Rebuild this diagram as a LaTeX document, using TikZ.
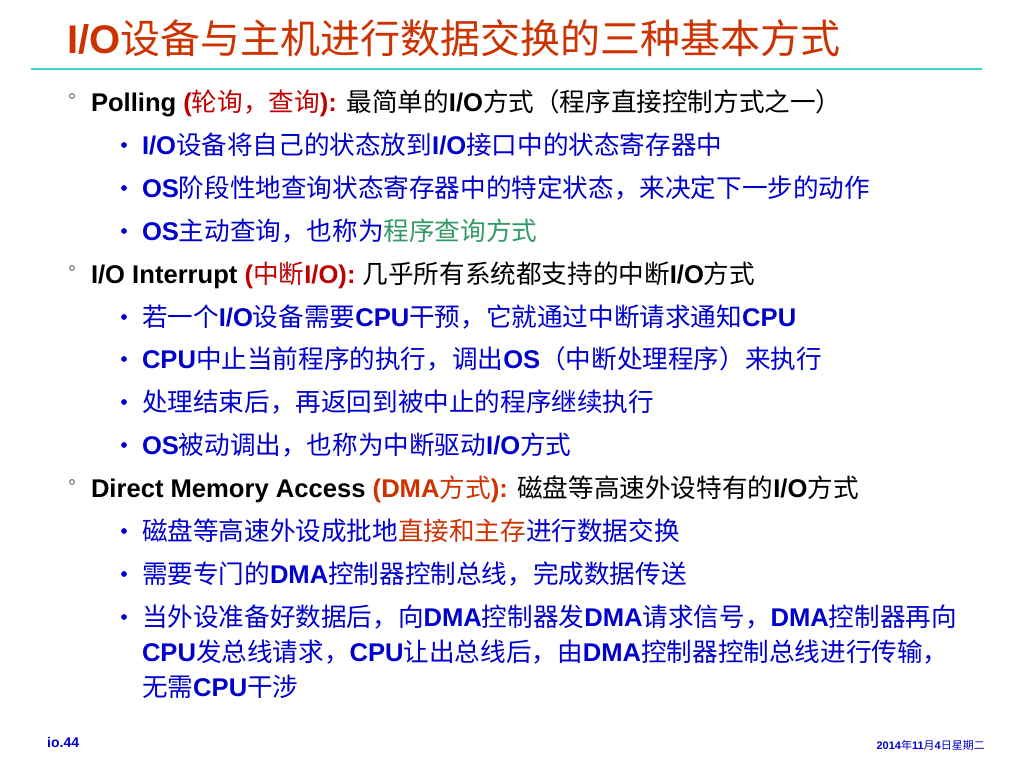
\documentclass[tikz,border=0pt]{standalone}
\usepackage{fontspec}
\setmainfont{Liberation Sans}
\newfontfamily\cjkfont{Noto Sans CJK SC}
\XeTeXinterchartokenstate=1
\newXeTeXintercharclass\cjkclass
\newcount\cjkc
\cjkc="4E00
\loop
\XeTeXcharclass\cjkc=\cjkclass
\advance\cjkc by 1
\ifnum\cjkc<"A000 \repeat
\XeTeXcharclass"FF08=\cjkclass
\XeTeXcharclass"FF09=\cjkclass
\XeTeXcharclass"FF0C=\cjkclass
\XeTeXcharclass"FF1A=\cjkclass
\XeTeXcharclass"3001=\cjkclass
\XeTeXcharclass"3002=\cjkclass
\XeTeXinterchartoks 0 \cjkclass={\begingroup\fontseries{m}\cjkfont}
\XeTeXinterchartoks 4095 \cjkclass={\begingroup\fontseries{m}\cjkfont}
\XeTeXinterchartoks \cjkclass 0={\endgroup}
\XeTeXinterchartoks \cjkclass 4095={\endgroup}
\definecolor{titlec}{HTML}{CC3300}
\definecolor{bluec}{HTML}{0000CC}
\definecolor{redc}{HTML}{C00000}
\definecolor{orangec}{HTML}{CC3300}
\definecolor{greenc}{HTML}{339966}
\definecolor{tealc}{HTML}{40D0C0}
\definecolor{markc}{HTML}{404040}
\tikzset{
  txt/.style={anchor=base west, inner sep=0pt, outer sep=0pt,
    font=\fontsize{25.6}{30}\selectfont\bfseries},
  lone/.style={txt, text=black},
  ltwo/.style={txt, text=bluec},
  mark1/.style={draw=markc, line width=0.7pt},
  mark2/.style={fill=bluec},
}
\begin{document}
\begin{tikzpicture}[x=1pt,y=-1pt]
\useasboundingbox (0,0) rectangle (1024,768);
\fill[white] (0,0) rectangle (1024,768);
% title
\node[anchor=base west, inner sep=0pt, text=titlec,
  font=\fontsize{40}{46}\selectfont\bfseries] (title) at (67,53)
  {I/O设备与主机进行数据交换的三种基本方式};
\coordinate (la) at (31,69);
\coordinate (lb) at (982,69);
\draw[tealc, line width=1.8pt] (la) -- (lb);
% level 1 markers
\foreach \yy in {106,278,492}{
  \draw[mark1] (72,\yy-10) circle (2.4);
}
% level 2 bullets
\foreach \yy in {154,197,240,326,368,411,454,540,583,626}{
  \fill[mark2] (124,\yy-9) circle (2.9);
}
% Polling
\node[lone] (p) at (91,111) {Polling {\color{redc}(轮询，查询):} 最简单的I/O方式（程序直接控制方式之一）};
\node[ltwo] (p1) at (142,154) {I/O设备将自己的状态放到I/O接口中的状态寄存器中};
\node[ltwo] (p2) at (142,197) {OS阶段性地查询状态寄存器中的特定状态，来决定下一步的动作};
\node[ltwo] (p3) at (142,240) {OS主动查询，也称为{\color{greenc}程序查询方式}};
% Interrupt
\node[lone] (i) at (91,283) {I/O Interrupt {\color{redc}(中断I/O):} 几乎所有系统都支持的中断I/O方式};
\node[ltwo] (i1) at (142,326) {若一个I/O设备需要CPU干预，它就通过中断请求通知CPU};
\node[ltwo] (i2) at (142,368) {CPU中止当前程序的执行，调出OS（中断处理程序）来执行};
\node[ltwo] (i3) at (142,411) {处理结束后，再返回到被中止的程序继续执行};
\node[ltwo] (i4) at (142,454) {OS被动调出，也称为中断驱动I/O方式};
% DMA
\node[lone] (d) at (91,497) {Direct Memory Access {\color{orangec}(DMA方式):} 磁盘等高速外设特有的I/O方式};
\node[ltwo] (d1) at (142,540) {磁盘等高速外设成批地{\color{orangec}直接和主存}进行数据交换};
\node[ltwo] (d2) at (142,583) {需要专门的DMA控制器控制总线，完成数据传送};
\node[ltwo] (d3) at (142,626) {当外设准备好数据后，向DMA控制器发DMA请求信号，DMA控制器再向};
\node[ltwo] (d3b) at (142,661) {CPU发总线请求，CPU让出总线后，由DMA控制器控制总线进行传输，};
\node[ltwo] (d3c) at (142,696) {无需CPU干涉};
% footer
\node[anchor=base west, inner sep=0pt, text=bluec,
  font=\fontsize{14}{16}\selectfont\bfseries] (pg) at (47,747) {io.44};
\node[anchor=base east, inner sep=0pt, text=bluec,
  font=\fontsize{11}{13}\selectfont\bfseries] (dt) at (985,749) {2014年11月4日星期二};
\end{tikzpicture}
\end{document}
